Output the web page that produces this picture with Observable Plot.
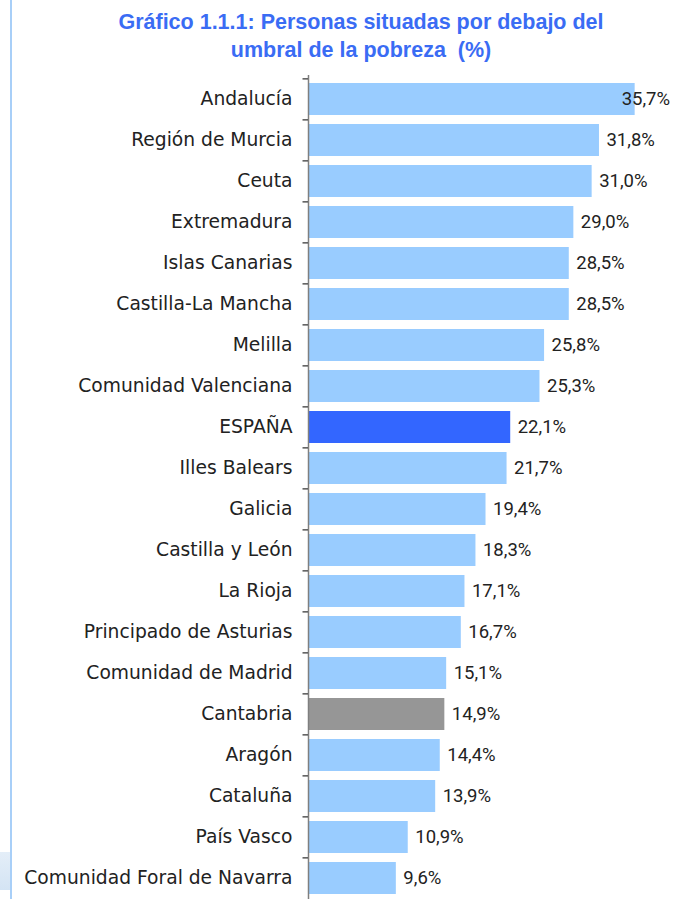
<!DOCTYPE html>
<html>
<head>
<meta charset="utf-8">
<script src="https://cdn.jsdelivr.net/npm/d3@7"></script>
<script src="https://cdn.jsdelivr.net/npm/@observablehq/plot@0.6"></script>
<style>
  html, body { margin: 0; padding: 0; background: #fff; overflow: hidden; width: 676px; height: 899px; }
  #wrap { position: relative; width: 676px; height: 899px; }
  #border { position: absolute; left: 10px; top: 0; width: 2px; height: 899px; background: #a8cff8; }
  #shade { position: absolute; left: 0; top: 852px; width: 10px; height: 38px; background: linear-gradient(#e4eef8, #d4e4f4); }
  #title { position: absolute; left: 0; top: 8px; width: 722px; text-align: center; font-family: "Liberation Sans", Arial, sans-serif; font-weight: bold; font-size: 21.5px; line-height: 28px; color: #3a6cf4; }
  #chart { position: absolute; left: 0; top: 60px; }
</style>
</head>
<body>
<div id="wrap">
  <div id="border"></div>
  <div id="shade"></div>
  <div id="title">Gráfico 1.1.1: Personas situadas por debajo del<br>umbral de la pobreza&nbsp; (%)</div>
  <div id="chart"></div>
</div>
<script>
const regions = ["Andalucía", "Región de Murcia", "Ceuta", "Extremadura", "Islas Canarias", "Castilla-La Mancha", "Melilla", "Comunidad Valenciana", "ESPAÑA", "Illes Balears", "Galicia", "Castilla y León", "La Rioja", "Principado de Asturias", "Comunidad de Madrid", "Cantabria", "Aragón", "Cataluña", "País Vasco", "Comunidad Foral de Navarra"];
const values = [35.7, 31.8, 31.0, 29.0, 28.5, 28.5, 25.8, 25.3, 22.1, 21.7, 19.4, 18.3, 17.1, 16.7, 15.1, 14.9, 14.4, 13.9, 10.9, 9.6];
const groups = ["region", "region", "region", "region", "region", "region", "region", "region", "spain", "region", "region", "region", "region", "region", "region", "cantabria", "region", "region", "region", "region"];

const data = regions.map((r, i) => ({region: r, value: values[i], group: groups[i]}));
const fmt = v => v.toFixed(1).replace(".", ",") + "%";
const step = (841 - 15) / regions.length;

const chart = Plot.plot({
  width: 676,
  height: 845,
  marginLeft: 308,
  marginRight: 2,
  marginTop: 15,
  marginBottom: 4,
  x: {domain: [0, 40], axis: null},
  y: {domain: regions, paddingInner: 0.22, paddingOuter: 0.11, align: 0.5, label: null},
  color: {domain: ["region", "spain", "cantabria"], range: ["#99ccff", "#3366ff", "#969696"]},
  style: {background: "transparent"},
  marks: [
    Plot.barX(data, {y: "region", x: "value", fill: "group"}),
    Plot.ruleX([0], {stroke: "#7f7f7f", strokeWidth: 1.5}),
    Plot.ruleY(regions, {y: d => d, dy: -step / 2, x1: -0.6, x2: 0, stroke: "#555", strokeWidth: 1.5, clip: false}),
    Plot.axisY({tickSize: 0, tickPadding: 16, fontSize: 18.7, fontFamily: "DejaVu Sans, sans-serif", fill: "#222", label: null}),
    Plot.text(data, {filter: d => d.value < 35, y: "region", x: "value", text: d => fmt(d.value), textAnchor: "start", dx: 7, fontSize: 18.5, fontFamily: "Roboto, sans-serif", fill: "#222"}),
    Plot.text(data, {filter: d => d.value >= 35, y: "region", x: "value", text: d => fmt(d.value), textAnchor: "start", dx: -13.5, fontSize: 18.5, fontFamily: "Roboto, sans-serif", fill: "#222"})
  ]
});
document.getElementById("chart").appendChild(chart);
</script>
</body>
</html>
